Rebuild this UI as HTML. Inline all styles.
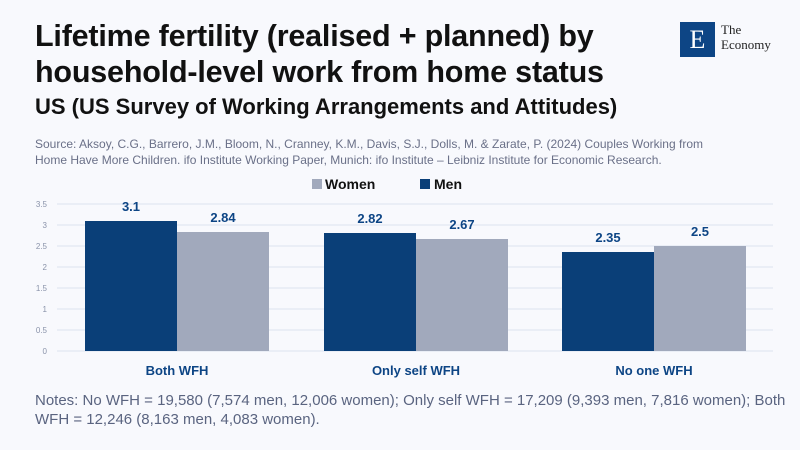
<!DOCTYPE html>
<html><head><meta charset="utf-8"><style>
body{margin:0;width:800px;height:450px;background:#f8f9fd;font-family:"Liberation Sans",sans-serif;position:relative;overflow:hidden}
.t{position:absolute;left:35px;top:18px;font-size:30.5px;font-weight:bold;color:#111;line-height:36px;letter-spacing:-0.2px}
.s{position:absolute;left:35px;top:94px;font-size:22px;font-weight:bold;color:#111}
.src{position:absolute;left:35px;top:136px;font-size:12px;color:#6a7088;line-height:16px}
.n{position:absolute;left:35px;top:391px;font-size:15px;color:#5a6480;line-height:19px}
</style></head><body>
<div class="t">Lifetime fertility (realised + planned) by<br>household-level work from home status</div>
<div class="s">US (US Survey of Working Arrangements and Attitudes)</div>
<div class="src">Source: Aksoy, C.G., Barrero, J.M., Bloom, N., Cranney, K.M., Davis, S.J., Dolls, M. &amp; Zarate, P. (2024) Couples Working from<br>Home Have More Children. ifo Institute Working Paper, Munich: ifo Institute – Leibniz Institute for Economic Research.</div>
<div style="position:absolute;left:680px;top:22px;width:35px;height:35px;background:#0d4585;color:#fff;font-family:'Liberation Serif',serif;font-size:26px;text-align:center;line-height:35px">E</div>
<div style="position:absolute;left:721px;top:22px;font-family:'Liberation Serif',serif;font-size:13px;line-height:15px;color:#222">The<br>Economy</div>
<svg width="800" height="450" style="position:absolute;left:0;top:0" font-family="Liberation Sans,sans-serif">
<rect x="312" y="179" width="10" height="10" fill="#a1a9bc"/><text x="325" y="189" font-size="14" font-weight="bold" fill="#111">Women</text>
<rect x="420" y="179" width="10" height="10" fill="#0a3f78"/><text x="434" y="189" font-size="14" font-weight="bold" fill="#111">Men</text>
<g stroke="#dde2ee" stroke-width="1">
<line x1="57" x2="773" y1="204" y2="204"/><line x1="57" x2="773" y1="225" y2="225"/><line x1="57" x2="773" y1="246" y2="246"/><line x1="57" x2="773" y1="267" y2="267"/><line x1="57" x2="773" y1="288" y2="288"/><line x1="57" x2="773" y1="309" y2="309"/><line x1="57" x2="773" y1="330" y2="330"/><line x1="57" x2="773" y1="351" y2="351"/></g>
<g font-size="8" fill="#8a93aa" text-anchor="end">
<text x="47" y="207">3.5</text><text x="47" y="228">3</text><text x="47" y="249">2.5</text><text x="47" y="270">2</text><text x="47" y="291">1.5</text><text x="47" y="312">1</text><text x="47" y="333">0.5</text><text x="47" y="354">0</text></g>
<g fill="#0a3f78"><rect x="85" y="221" width="92" height="130"/><rect x="324" y="233" width="92" height="118"/><rect x="562" y="252" width="92" height="99"/></g>
<g fill="#a1a9bc"><rect x="177" y="232" width="92" height="119"/><rect x="416" y="239" width="92" height="112"/><rect x="654" y="246" width="92" height="105"/></g>
<g font-size="13" font-weight="bold" fill="#0d4585" text-anchor="middle">
<text x="131" y="211">3.1</text><text x="223" y="222">2.84</text><text x="370" y="223">2.82</text><text x="462" y="229">2.67</text><text x="608" y="242">2.35</text><text x="700" y="236">2.5</text></g>
<g font-size="13" font-weight="bold" fill="#0d4585" text-anchor="middle">
<text x="177" y="375">Both WFH</text><text x="416" y="375">Only self WFH</text><text x="654" y="375">No one WFH</text></g>
</svg>
<div class="n">Notes: No WFH = 19,580 (7,574 men, 12,006 women); Only self WFH = 17,209 (9,393 men, 7,816 women); Both<br>WFH = 12,246 (8,163 men, 4,083 women).</div>
</body></html>
